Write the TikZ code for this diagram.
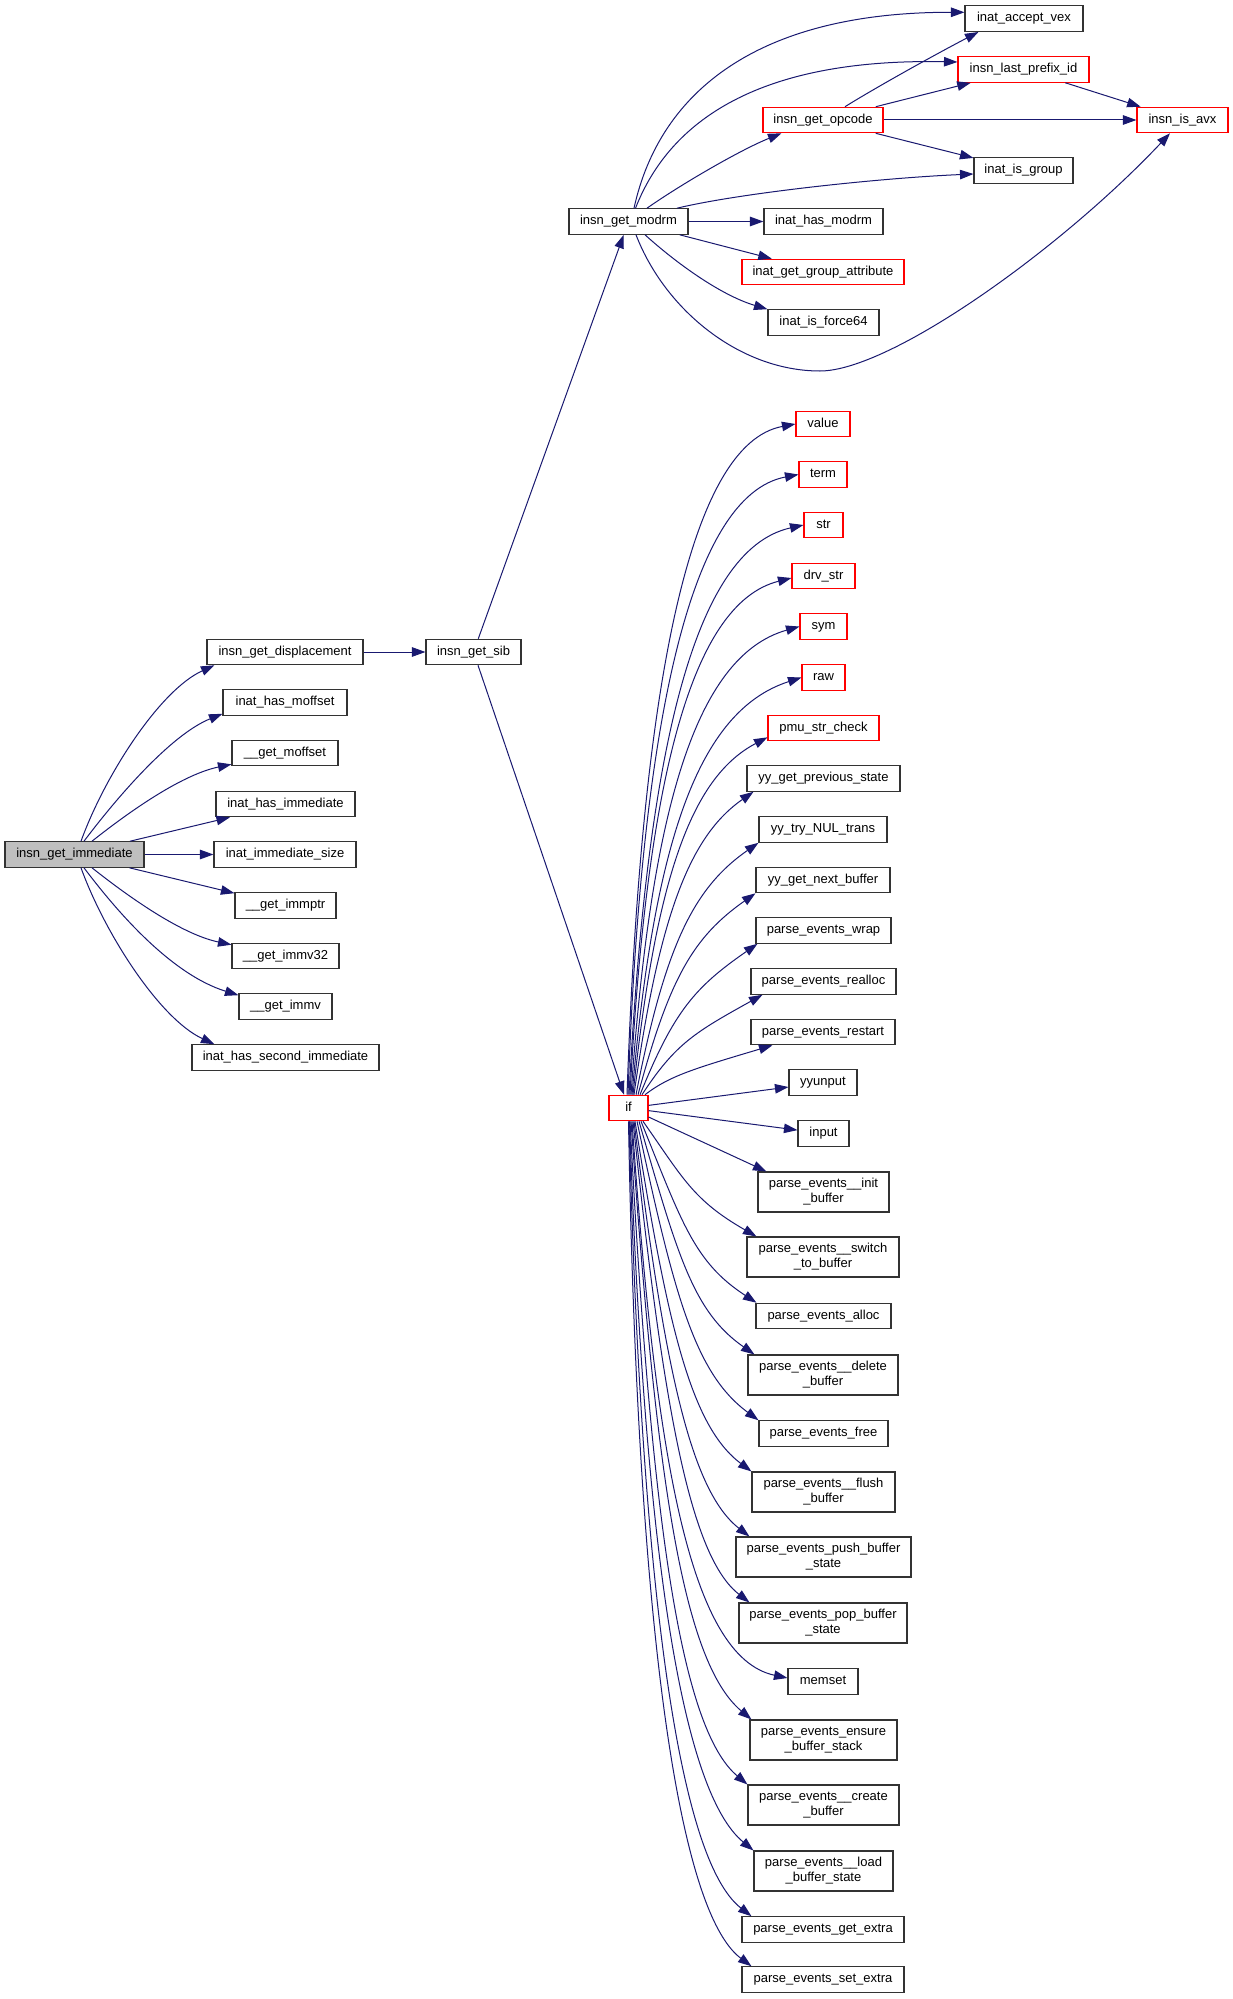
\documentclass[tikz,border=0pt]{standalone}
\usepackage{fontspec}
\setmainfont{Liberation Sans}
\usetikzlibrary{arrows.meta}
\definecolor{edgec}{HTML}{191970}
\definecolor{ndgray}{HTML}{333333}
\definecolor{rootfill}{HTML}{BFBFBF}
\newcommand{\fsz}{\fontsize{13pt}{15pt}\selectfont}
\tikzset{
  nd/.style={draw=ndgray, line width=1.1pt, font=\fsz, inner sep=0pt,
    minimum height=25.5pt, text height=9.3pt, text depth=2.7pt},
  rd/.style={nd, draw=red},
  ndd/.style={draw=ndgray, line width=1.1pt, font=\fsz, inner sep=0pt,
    minimum height=40pt, align=center},
  ed/.style={draw=edgec, line width=1pt, -{Triangle[length=13.5pt,width=9.5pt]}},
}
\begin{document}
\begin{tikzpicture}[x=1pt,y=-1pt]
\fill[white] (0,0) rectangle (1233,1999);
\useasboundingbox (0,0) rectangle (1233,1999);

% left cluster
\node[nd, fill=rootfill, minimum width=139pt] (R) at (74.5,854.5) {insn\_get\_immediate};
\node[nd, minimum width=156pt] (disp) at (285,652) {insn\_get\_displacement};
\node[nd, minimum width=124pt] (hmo) at (285,702.5) {inat\_has\_moffset};
\node[nd, minimum width=106pt] (gmo) at (285,753) {\_\_get\_moffset};
\node[nd, minimum width=139pt] (himm) at (285.5,804) {inat\_has\_immediate};
\node[nd, minimum width=142pt] (isz) at (285,854.5) {inat\_immediate\_size};
\node[nd, minimum width=101pt] (iptr) at (285.5,905.5) {\_\_get\_immptr};
\node[nd, minimum width=107pt] (iv32) at (285.5,956) {\_\_get\_immv32};
\node[nd, minimum width=93pt] (iv) at (285.5,1006.5) {\_\_get\_immv};
\node[nd, minimum width=187pt] (hsec) at (285.5,1057.5) {inat\_has\_second\_immediate};
\node[nd, minimum width=95pt] (sib) at (473.5,652) {insn\_get\_sib};
\node[rd, minimum width=39pt] (ifn) at (628.5,1108) {if};

% top cluster
\node[nd, minimum width=119pt] (modrm) at (628.5,221.5) {insn\_get\_modrm};
\node[rd, minimum width=120pt] (opc) at (823,120) {insn\_get\_opcode};
\node[nd, minimum width=119pt] (hmodrm) at (823.5,221.5) {inat\_has\_modrm};
\node[rd, minimum width=162pt] (gattr) at (823,272) {inat\_get\_group\_attribute};
\node[nd, minimum width=111pt] (f64) at (823.5,322.5) {inat\_is\_force64};
\node[nd, minimum width=118pt] (avex) at (1024,18.7) {inat\_accept\_vex};
\node[rd, minimum width=131pt] (lpid) at (1023.5,69.5) {insn\_last\_prefix\_id};
\node[rd, minimum width=91pt] (avx) at (1182.5,120) {insn\_is\_avx};
\node[nd, minimum width=99pt] (igrp) at (1023.5,170.5) {inat\_is\_group};

% right column
\node[rd, minimum width=54pt] (value) at (823,424) {value};
\node[rd, minimum width=48pt] (term) at (823,474.5) {term};
\node[rd, minimum width=39pt] (str) at (823.5,525) {str};
\node[rd, minimum width=63pt] (drv) at (823.5,576) {drv\_str};
\node[rd, minimum width=47pt] (sym) at (823.5,626.5) {sym};
\node[rd, minimum width=43pt] (raw) at (823.5,677.5) {raw};
\node[rd, minimum width=111pt] (pmu) at (823.5,728) {pmu\_str\_check};
\node[nd, minimum width=153pt] (prev) at (823.5,778.5) {yy\_get\_previous\_state};
\node[nd, minimum width=128pt] (try) at (823,829.5) {yy\_try\_NUL\_trans};
\node[nd, minimum width=134pt] (next) at (823,880) {yy\_get\_next\_buffer};
\node[nd, minimum width=135pt] (wrap) at (823.5,930.5) {parse\_events\_wrap};
\node[nd, minimum width=145pt] (realloc) at (823.5,981.5) {parse\_events\_realloc};
\node[nd, minimum width=144pt] (restart) at (823,1032) {parse\_events\_restart};
\node[nd, minimum width=68pt] (yyunput) at (823,1082.5) {yyunput};
\node[nd, minimum width=51pt] (input) at (823.5,1133.5) {input};
\node[ndd, minimum width=131pt] (init) at (823.5,1192) {parse\_events\_\_init\\\_buffer};
\node[ndd, minimum width=152pt] (switch) at (823,1257) {parse\_events\_\_switch\\\_to\_buffer};
\node[nd, minimum width=135pt] (alloc) at (823.5,1316) {parse\_events\_alloc};
\node[ndd, minimum width=150pt] (delete) at (823,1375) {parse\_events\_\_delete\\\_buffer};
\node[nd, minimum width=129pt] (free) at (823.5,1433.5) {parse\_events\_free};
\node[ndd, minimum width=143pt] (flush) at (823.5,1492) {parse\_events\_\_flush\\\_buffer};
\node[ndd, minimum width=175pt] (push) at (823.5,1557) {parse\_events\_push\_buffer\\\_state};
\node[ndd, minimum width=168pt] (pop) at (823,1623) {parse\_events\_pop\_buffer\\\_state};
\node[nd, minimum width=70pt] (memset) at (823,1681.5) {memset};
\node[ndd, minimum width=147pt] (ensure) at (823.5,1740) {parse\_events\_ensure\\\_buffer\_stack};
\node[ndd, minimum width=151pt] (create) at (823.5,1805) {parse\_events\_\_create\\\_buffer};
\node[ndd, minimum width=139pt] (load) at (823.5,1871) {parse\_events\_\_load\\\_buffer\_state};
\node[nd, minimum width=162pt] (getx) at (823,1929.5) {parse\_events\_get\_extra};
\node[nd, minimum width=162pt] (setx) at (823,1979.5) {parse\_events\_set\_extra};

% left cluster edges
\draw[ed] ([xshift=6.5pt]R.north) .. controls (105,775) and (160,690) .. ([xshift=8pt]disp.south west);
\draw[ed] ([xshift=9.5pt]R.north) .. controls (115,800) and (170,735) .. ([yshift=2pt]hmo.south west);
\draw[ed] ([xshift=17.5pt]R.north) .. controls (125,815) and (180,775) .. ([yshift=2pt]gmo.south west);
\draw[ed] (R) -- (himm);
\draw[ed] (R) -- (isz);
\draw[ed] (R) -- (iptr);
\draw[ed] ([xshift=17.5pt]R.south) .. controls (125,894) and (180,934) .. ([yshift=-2pt]iv32.north west);
\draw[ed] ([xshift=9.5pt]R.south) .. controls (115,909) and (170,974) .. ([yshift=-2pt]iv.north west);
\draw[ed] ([xshift=6.5pt]R.south) .. controls (105,934) and (160,1019) .. ([xshift=23pt]hsec.north west);

% sib
\draw[ed] (disp) -- (sib);
\draw[ed] (sib) -- (modrm);
\draw[ed] (sib) -- (ifn);

% top cluster edges
\draw[ed] ([xshift=5.5pt]modrm.north) .. controls (660,90) and (760,12) .. ([yshift=6.4pt]avex.west);
\draw[ed] ([xshift=7pt]modrm.north) .. controls (670,120) and (760,58) .. ([yshift=7.5pt]lpid.west);
\draw[ed] ([xshift=18.5pt]modrm.north) .. controls (680,185) and (740,150) .. ([xshift=19pt]opc.south west);
\draw[ed] ([xshift=48.5pt]modrm.north) .. controls (740,193) and (880,178) .. ([yshift=-3.5pt]igrp.west);
\draw[ed] (modrm) -- (hmodrm);
\draw[ed] (modrm) -- (gattr);
\draw[ed] ([xshift=16.5pt]modrm.south) .. controls (675,262) and (720,295) .. (f64.north west);
\draw[ed] ([xshift=7.5pt]modrm.south) .. controls (665,310) and (740,371) .. (820,371)
   .. controls (890,371) and (1060,250) .. ([xshift=-12.5pt]avx.south);
\draw[ed] ([xshift=22pt]opc.north) .. controls (880,85) and (940,52) .. ([xshift=14pt]avex.south west);
\draw[ed] (opc) -- (lpid);
\draw[ed] (opc) -- (avx);
\draw[ed] (opc) -- (igrp);
\draw[ed] (lpid) -- (avx);

% if edges, upward
\draw[ed] ([xshift=-1.5pt]ifn.north) .. controls (641,693) and (687.7,444) .. (value.west);
\draw[ed] ([xshift=-0.5pt]ifn.north) .. controls (641,724) and (689.7,495.3) .. (term.west);
\draw[ed] ([xshift=0.5pt]ifn.north) .. controls (646.8,754) and (692.7,549.7) .. (str.west);
\draw[ed] ([xshift=1.5pt]ifn.north) .. controls (646.2,785) and (689.8,603.5) .. ([yshift=-2pt]drv.west);
\draw[ed] ([xshift=2.5pt]ifn.north) .. controls (650.5,815) and (693.8,656.4) .. (sym.west);
\draw[ed] ([xshift=3.5pt]ifn.north) .. controls (653.8,846) and (696.3,711.3) .. (raw.west);
\draw[ed] ([xshift=4.5pt]ifn.north) .. controls (655.5,881) and (690.1,777.9) .. ([yshift=4pt]pmu.south west);
\draw[ed] ([xshift=5.5pt]ifn.north) .. controls (659.3,914) and (690.1,835.7) .. ([xshift=7pt]prev.south west);
\draw[ed] ([xshift=7.5pt]ifn.north) .. controls (665,945.8) and (693.5,887.9) .. (try.south west);
\draw[ed] ([xshift=9.5pt]ifn.north) .. controls (669.3,978.1) and (693.2,937) .. (next.south west);
\draw[ed] ([xshift=11.5pt]ifn.north) .. controls (674.1,1010.6) and (695.2,987) .. ([xshift=2pt]wrap.south west);
\draw[ed] ([xshift=13.5pt]ifn.north) .. controls (675.2,1043.8) and (694.9,1032.3) .. ([xshift=12pt]realloc.south west);
\draw[ed] ([xshift=16.5pt]ifn.north) .. controls (669.4,1075.9) and (693.9,1068.7) .. ([xshift=22pt]restart.south west);

% if edges, sideways and downward
\draw[ed] (ifn) -- (yyunput);
\draw[ed] (ifn) -- (input);
\draw[ed] ([yshift=-9pt]ifn.east) -- ([xshift=9pt]init.north west);
\draw[ed] ([xshift=14.5pt]ifn.south) .. controls (682.9,1178) and (692.9,1200) .. ([xshift=10pt]switch.north west);
\draw[ed] ([xshift=12.5pt]ifn.south) .. controls (681.8,1222) and (693.8,1261.9) .. ([xshift=1pt]alloc.north west);
\draw[ed] ([xshift=10.5pt]ifn.south) .. controls (677.6,1255.6) and (693.2,1311.8) .. ([xshift=7pt]delete.north west);
\draw[ed] ([xshift=8.5pt]ifn.south) .. controls (674.4,1297) and (695.2,1373.6) .. (free.north west);
\draw[ed] ([xshift=6.5pt]ifn.south) .. controls (668,1329) and (691.3,1426.3) .. (flush.north west);
\draw[ed] ([xshift=5.5pt]ifn.south) .. controls (664.4,1368.7) and (690.6,1490.6) .. ([xshift=14pt]push.north west);
\draw[ed] ([xshift=4.5pt]ifn.south) .. controls (663.2,1408.4) and (690.1,1556.2) .. ([xshift=11pt]pop.north west);
\draw[ed] ([xshift=3.5pt]ifn.south) .. controls (655.3,1454.2) and (688.8,1656.9) .. ([yshift=3.5pt]memset.west);
\draw[ed] ([xshift=2.5pt]ifn.south) .. controls (656,1479) and (682.5,1661.6) .. ([xshift=2pt]ensure.north west);
\draw[ed] ([xshift=1.5pt]ifn.south) .. controls (650.8,1518.5) and (680.2,1728.1) .. (create.north west);
\draw[ed] ([xshift=1pt]ifn.south) .. controls (644.8,1559.3) and (682.5,1792) .. (load.north west);
\draw[ed] ([xshift=0.5pt]ifn.south) .. controls (641.5,1598.4) and (679.3,1860.2) .. ([xshift=10pt]getx.north west);
\draw[ed] (ifn.south) .. controls (637.4,1628.5) and (678,1911.3) .. ([xshift=10pt]setx.north west);
\end{tikzpicture}
\end{document}
